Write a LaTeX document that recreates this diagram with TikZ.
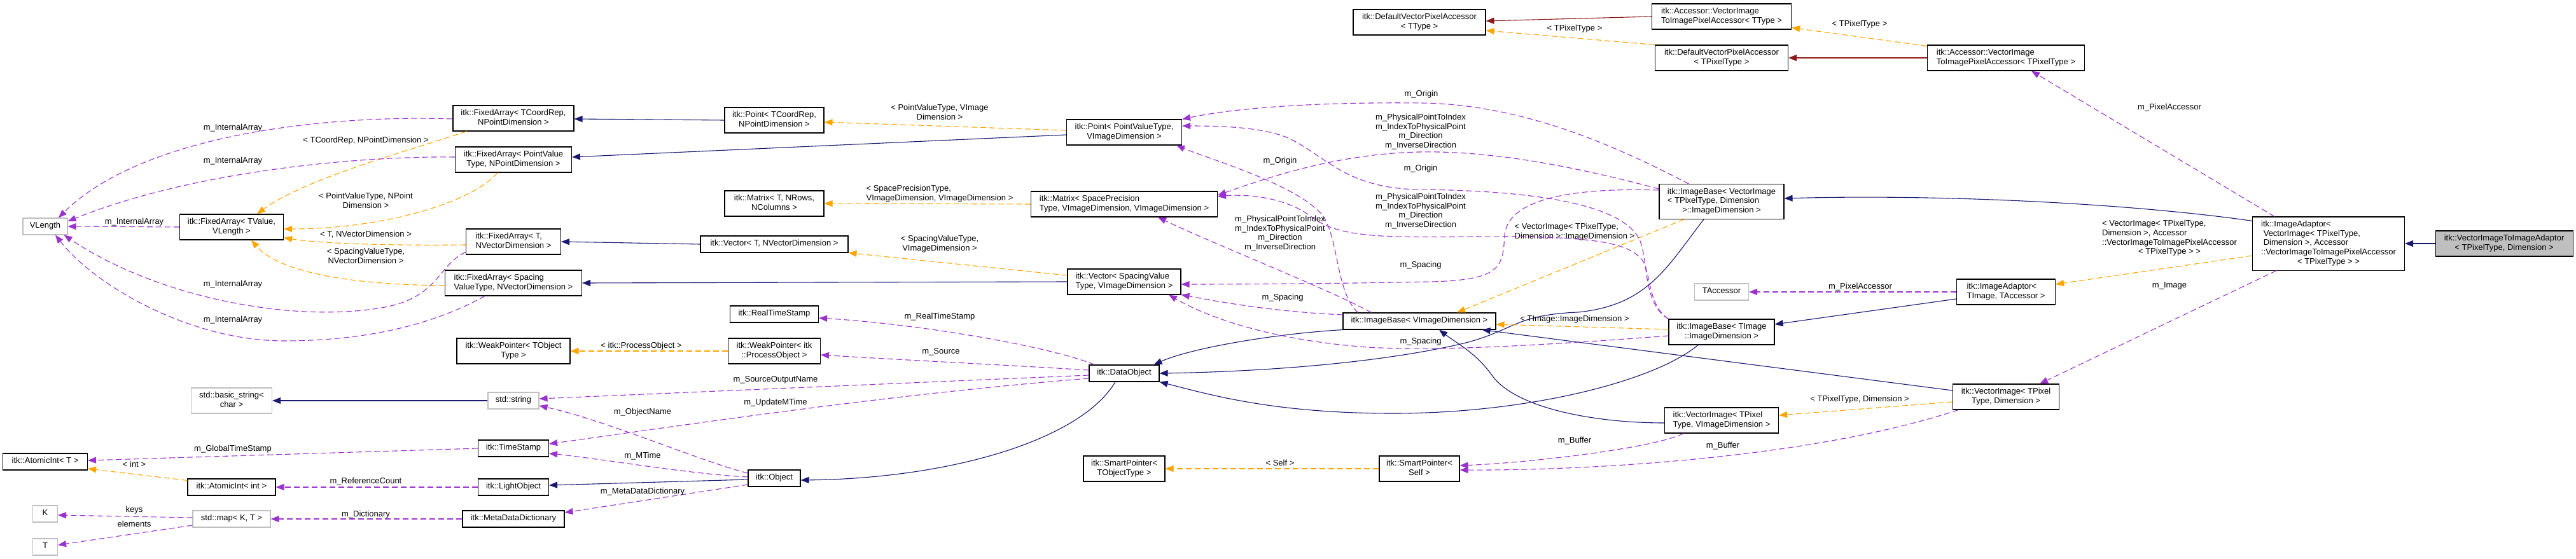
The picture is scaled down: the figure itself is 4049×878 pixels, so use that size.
\documentclass[tikz,border=0pt]{standalone}
\usepackage{fontspec}
\setmainfont{Liberation Sans}
\usetikzlibrary{arrows.meta,calc}

\definecolor{inhblue}{HTML}{191970}
\definecolor{usepurple}{HTML}{9A32CD}
\definecolor{tmplorange}{HTML}{FFA500}
\definecolor{privred}{HTML}{8B1A1A}
\definecolor{extgray}{HTML}{BFBFBF}

\newcommand*{\nodefont}{\fontsize{13}{14.7}\selectfont}
\newcommand*{\boxtext}[2]{\begin{tabular}{@{}l@{}}#1\multicolumn{1}{@{}c@{}}{#2}\end{tabular}}

\begin{document}
\begin{tikzpicture}
[
	x=1pt, y=-1pt,
	clsbox/.style={draw=black,line width=1.1pt,fill=white,font=\nodefont,inner xsep=8pt,inner ysep=5.3pt,minimum height=26pt},
	extbox/.style={clsbox,draw=extgray},
	mainbox/.style={clsbox,fill=extgray},
	lbl/.style={font=\nodefont,inner sep=0pt},
	inhline/.style={draw=inhblue,line width=1.1pt,-{Triangle[length=13pt,width=10pt]}},
	privline/.style={inhline,draw=privred},
	useline/.style={inhline,draw=usepurple,dash pattern=on 9pt off 5pt},
	tmplline/.style={useline,draw=tmplorange}
]

	\useasboundingbox (0,0) rectangle (4049,878);

	% classes
	\node[extbox,minimum width=70] at (71,356) (vlength) {\boxtext{}{VLength}};
	\node[clsbox,minimum width=133] at (71,726) (atomicT) {\boxtext{}{itk::AtomicInt< T >}};
	\node[extbox,minimum width=39] at (71,808) (keyK) {\boxtext{}{K}};
	\node[extbox,minimum width=39] at (71,860) (elemT) {\boxtext{}{T}};

	\node[clsbox,minimum width=163] at (364,357) (fixedTV) {\boxtext{itk::FixedArray< TValue,\\}{VLength >}};
	\node[extbox,minimum width=127] at (364,630) (basicstr) {\boxtext{std::basic\_string<\\}{char >}};
	\node[clsbox,minimum width=138] at (364,766) (atomicInt) {\boxtext{}{itk::AtomicInt< int >}};
	\node[extbox,minimum width=122] at (364,816) (stdmap) {\boxtext{}{std::map< K, T >}};

	\node[clsbox,minimum width=190] at (807,186) (fixedCR) {\boxtext{itk::FixedArray< TCoordRep,\\}{NPointDimension >}};
	\node[clsbox,minimum width=183] at (807,251) (fixedPV) {\boxtext{itk::FixedArray< PointValue\\}{Type, NPointDimension >}};
	\node[clsbox,minimum width=149] at (807,380) (fixedTN) {\boxtext{itk::FixedArray< T,\\}{NVectorDimension >}};
	\node[clsbox,minimum width=215] at (807,445) (fixedSV) {\boxtext{itk::FixedArray< Spacing\\}{ValueType, NVectorDimension >}};
	\node[clsbox,minimum width=178] at (807,552) (weakTO) {\boxtext{itk::WeakPointer< TObject\\}{Type >}};
	\node[extbox,minimum width=80] at (807,630) (stdstring) {\boxtext{}{std::string}};
	\node[clsbox,minimum width=111] at (807,705) (timestamp) {\boxtext{}{itk::TimeStamp}};
	\node[clsbox,minimum width=111] at (807,766) (lightobj) {\boxtext{}{itk::LightObject}};
	\node[clsbox,minimum width=160] at (807,816) (metadict) {\boxtext{}{itk::MetaDataDictionary}};

	\node[clsbox,minimum width=156] at (1217,189) (pointCR) {\boxtext{itk::Point< TCoordRep,\\}{NPointDimension >}};
	\node[clsbox,minimum width=156] at (1217,320) (matrixT) {\boxtext{itk::Matrix< T, NRows,\\}{NColumns >}};
	\node[clsbox,minimum width=232] at (1217,384) (vectorT) {\boxtext{}{itk::Vector< T, NVectorDimension >}};
	\node[clsbox,minimum width=139] at (1217,494) (realts) {\boxtext{}{itk::RealTimeStamp}};
	\node[clsbox,minimum width=145] at (1217,552) (weakPO) {\boxtext{itk::WeakPointer< itk\\}{::ProcessObject >}};
	\node[clsbox,minimum width=82] at (1217,752) (object) {\boxtext{}{itk::Object}};

	\node[clsbox,minimum width=181] at (1767,208) (pointPV) {\boxtext{itk::Point< PointValueType,\\}{VImageDimension >}};
	\node[clsbox,minimum width=293] at (1767,321) (matrixSP) {\boxtext{itk::Matrix< SpacePrecision\\}{Type, VImageDimension, VImageDimension >}};
	\node[clsbox,minimum width=178] at (1767,443) (vectorSV) {\boxtext{itk::Vector< SpacingValue\\}{Type, VImageDimension >}};
	\node[clsbox,minimum width=110] at (1767,587) (dataobj) {\boxtext{}{itk::DataObject}};
	\node[clsbox,minimum width=128] at (1767,737) (smartTO) {\boxtext{itk::SmartPointer<\\}{TObjectType >}};

	\node[clsbox,minimum width=208] at (2231,35) (defaultTT) {\boxtext{itk::DefaultVectorPixelAccessor\\}{< TType >}};
	\node[clsbox,minimum width=240] at (2231,505) (imagebaseV) {\boxtext{}{itk::ImageBase< VImageDimension >}};
	\node[clsbox,minimum width=126] at (2231,737) (smartSelf) {\boxtext{itk::SmartPointer<\\}{Self >}};

	\node[clsbox,minimum width=219] at (2706,26) (accessorTT) {\boxtext{itk::Accessor::VectorImage\\}{ToImagePixelAccessor< TType >}};
	\node[clsbox,minimum width=209] at (2706,91) (defaultTP) {\boxtext{itk::DefaultVectorPixelAccessor\\}{< TPixelType >}};
	\node[clsbox,minimum width=196] at (2706,317) (imagebaseVI) {\boxtext{itk::ImageBase< VectorImage\\< TPixelType, Dimension\\}{>::ImageDimension >}};
	\node[extbox,minimum width=85] at (2706,459) (taccessor) {\boxtext{}{TAccessor}};
	\node[clsbox,minimum width=166] at (2706,522) (imagebaseTI) {\boxtext{itk::ImageBase< TImage\\}{::ImageDimension >}};
	\node[clsbox,minimum width=179] at (2706,661) (vectorVID) {\boxtext{itk::VectorImage< TPixel\\}{Type, VImageDimension >}};

	\node[clsbox,minimum width=247] at (3153,91) (accessorTP) {\boxtext{itk::Accessor::VectorImage\\}{ToImagePixelAccessor< TPixelType >}};
	\node[clsbox,minimum width=155] at (3153,459) (adaptorTA) {\boxtext{itk::ImageAdaptor<\\}{TImage, TAccessor >}};
	\node[clsbox,minimum width=167] at (3153,624) (vectorDim) {\boxtext{itk::VectorImage< TPixel\\}{Type, Dimension >}};

	\node[clsbox,minimum width=239] at (3660,383) (adaptorVI) {\boxtext{itk::ImageAdaptor<\\\ VectorImage< TPixelType,\\\ Dimension >, Accessor\\::VectorImageToImagePixelAccessor\\}{< TPixelType > >}};
	\node[mainbox,minimum width=216] at (3936,383) (vi2ia) {\boxtext{itk::VectorImageToImageAdaptor\\}{< TPixelType, Dimension >}};

	% inheritance
	\draw[inhline] (vi2ia.west) -- (adaptorVI.east);
	\draw[inhline] ($(adaptorVI.north west)+(0,7)$) .. controls (3350,320) and (3050,305) .. ($(imagebaseVI.east)+(0,-5)$);
	\draw[inhline] ($(adaptorTA.west)+(0,11)$) -- ($(imagebaseTI.east)+(0,-12)$);
	\draw[inhline] ($(vectorDim.west)+(0,-10)$) -- ($(imagebaseV.south east)+(-22,0)$);
	\draw[inhline] ($(vectorVID.west)+(0,4)$) .. controls (2500,665) and (2380,640) .. (2345,590) .. controls (2320,555) and (2290,540) .. ($(imagebaseV.south)+(31,0)$);
	\draw[inhline] ($(imagebaseVI.south)+(-28,0)$) .. controls (2620,420) and (2590,480) .. (2480,491) .. controls (2380,495) and (2380,520) .. (2300,540) .. controls (2150,575) and (1950,585) .. (dataobj.east);
	\draw[inhline] ($(imagebaseTI.south)+(-37,0)$) .. controls (2600,600) and (2400,650) .. (2190,650) .. controls (2000,650) and (1900,620) .. (dataobj.south east);
	\draw[inhline] (imagebaseV.south west) .. controls (2000,525) and (1870,548) .. ($(dataobj.north east)+(-9,0)$);
	\draw[inhline] ($(dataobj.south)+(-14,0)$) .. controls (1700,690) and (1500,752) .. ($(object.east)+(0,3)$);
	\draw[inhline] ($(object.west)+(0,2)$) -- ($(lightobj.east)+(0,-3)$);
	\draw[inhline] (stdstring.west) -- (basicstr.east);
	\draw[inhline] ($(pointPV.west)+(0,4)$) -- ($(fixedPV.east)+(0,-4)$);
	\draw[inhline] (vectorSV.west) -- (fixedSV.east);
	\draw[inhline] (pointCR.west) -- ($(fixedCR.east)+(0,1)$);
	\draw[inhline] (vectorT.west) -- (fixedTN.east);
	\draw[privline] (accessorTP.west) -- (defaultTP.east);
	\draw[privline] (accessorTT.west) -- ($(defaultTT.east)+(0,-2)$);

	% template arguments
	\draw[tmplline] ($(adaptorVI.west)+(0,19)$) -- ($(adaptorTA.east)+(0,-12)$);
	\node[lbl] at (3410,375) (lblAdaptorArgs) {\boxtext{< VectorImage< TPixelType,\\Dimension >, Accessor\\::VectorImageToImagePixelAccessor\\}{< TPixelType > >}};
	\draw[tmplline] ($(accessorTP.north west)+(0,2)$) -- ($(accessorTT.south east)+(0,-3)$);
	\node[lbl] at (2923,38) (lblTPixel1) {< TPixelType >};
	\draw[tmplline] (defaultTP.north west) -- ($(defaultTT.east)+(0,13)$);
	\node[lbl] at (2475,45) (lblTPixel2) {< TPixelType >};
	\draw[tmplline] ($(vectorDim.west)+(0,8)$) -- ($(vectorVID.east)+(0,-8)$);
	\node[lbl] at (2923,628) (lblTPixelDim) {< TPixelType, Dimension >};
	\draw[tmplline] ($(imagebaseVI.south)+(-59,0)$) -- ($(imagebaseV.north)+(59,0)$);
	\node[lbl] at (2475,365) (lblVIDim) {\boxtext{< VectorImage< TPixelType,\\}{Dimension >::ImageDimension >}};
	\draw[tmplline] ($(imagebaseTI.west)+(0,-4)$) -- ($(imagebaseV.east)+(0,5)$);
	\node[lbl] at (2475,502) (lblTImageDim) {< TImage::ImageDimension >};
	\draw[tmplline] (smartSelf.west) -- (smartTO.east);
	\node[lbl] at (2012,728) (lblSelf) {< Self >};
	\draw[tmplline] ($(pointPV.west)+(0,-3)$) -- ($(pointCR.east)+(0,3)$);
	\node[lbl] at (1477,178) (lblPointArgs) {\boxtext{< PointValueType, VImage\\}{Dimension >}};
	\draw[tmplline] (matrixSP.west) -- (matrixT.east);
	\node[lbl] at (1477,305) (lblMatrixArgs) {\boxtext{< SpacePrecisionType,\\}{VImageDimension, VImageDimension >}};
	\draw[tmplline] ($(vectorSV.west)+(0,-10)$) -- (vectorT.south east);
	\node[lbl] at (1477,384) (lblVectorArgs) {\boxtext{< SpacingValueType,\\}{VImageDimension >}};
	\draw[tmplline] (weakPO.west) -- (weakTO.east);
	\node[lbl] at (1008,544) (lblProcObj) {< itk::ProcessObject >};
	\draw[tmplline] ($(fixedCR.south west)+(22,0)$) .. controls (650,235) and (480,280) .. ($(fixedTV.north)+(40,0)$);
	\node[lbl] at (575,221) (lblCoordArgs) {< TCoordRep, NPointDimension >};
	\draw[tmplline] ($(fixedPV.south)+(-25,0)$) .. controls (740,320) and (600,360) .. ($(fixedTV.east)+(0,3)$);
	\node[lbl] at (575,317) (lblPVArgs) {\boxtext{< PointValueType, NPoint\\}{Dimension >}};
	\draw[tmplline] ($(fixedTN.west)+(0,5)$) .. controls (650,386) and (520,385) .. ($(fixedTV.east)+(0,17)$);
	\node[lbl] at (575,369) (lblTNArgs) {< T, NVectorDimension >};
	\draw[tmplline] ($(fixedSV.west)+(0,4)$) .. controls (560,448) and (440,430) .. ($(fixedTV.south)+(31,0)$);
	\node[lbl] at (575,404) (lblSVArgs) {\boxtext{< SpacingValueType,\\}{NVectorDimension >}};
	\draw[tmplline] ($(atomicInt.north west)+(0,3)$) -- ($(atomicT.east)+(0,11)$);
	\node[lbl] at (211,730) (lblInt) {< int >};

	% members
	\draw[useline] ($(adaptorVI.north west)+(35,0)$) -- ($(accessorTP.south)+(40,0)$);
	\node[lbl] at (3410,169) (lblPixAcc1) {m\_PixelAccessor};
	\draw[useline] ($(adaptorVI.south west)+(38,0)$) -- ($(vectorDim.north)+(53,0)$);
	\node[lbl] at (3410,449) (lblImage) {m\_Image};
	\draw[useline] (adaptorTA.west) -- (taccessor.east);
	\node[lbl] at (2924,451) (lblPixAcc2) {m\_PixelAccessor};
	\draw[useline] ($(vectorDim.south west)+(9,0)$) .. controls (2850,720) and (2500,740) .. ($(smartSelf.east)+(0,2)$);
	\node[lbl] at (2708,701) (lblBuffer1) {m\_Buffer};
	\draw[useline] ($(vectorVID.south west)+(30,0)$) .. controls (2600,705) and (2400,728) .. ($(smartSelf.east)+(0,-5)$);
	\node[lbl] at (2475,693) (lblBuffer2) {m\_Buffer};

	\draw[useline] ($(imagebaseVI.north west)+(47,0)$) .. controls (2550,235) and (2400,164) .. (2234,162) .. controls (2050,160) and (1930,172) .. (pointPV.north east);
	\node[lbl] at (2234,148) (lblOrigin1) {m\_Origin};
	\draw[useline] (imagebaseTI.north west) .. controls (2585,480) and (2590,420) .. (2580,385) .. controls (2565,330) and (2450,300) .. (2230,298) .. controls (2110,296) and (2080,240) .. (2020,215) .. controls (1980,200) and (1920,198) .. ($(pointPV.east)+(0,-10)$);
	\node[lbl] at (2233,265) (lblOrigin2) {m\_Origin};
	\draw[useline] ($(imagebaseV.north west)+(24,0)$) .. controls (2100,460) and (2105,380) .. (2080,340) .. controls (2040,290) and (1900,250) .. ($(pointPV.south east)+(-9,0)$);
	\node[lbl] at (2012,253) (lblOrigin3) {m\_Origin};

	\draw[useline] ($(imagebaseVI.west)+(0,-20)$) .. controls (2450,255) and (2330,237) .. (2230,239) .. controls (2100,242) and (1990,280) .. ($(matrixSP.east)+(0,-14)$);
	\node[lbl,align=center] at (2233,207) (lblDir1) {m\_PhysicalPointToIndex\\m\_IndexToPhysicalPoint\\m\_Direction\\m\_InverseDirection};
	\draw[useline] (imagebaseTI.north west) .. controls (2590,480) and (2595,430) .. (2582,410) .. controls (2560,380) and (2500,374) .. (2380,372) .. controls (2200,372) and (2110,380) .. (2060,340) .. controls (2020,310) and (1960,305) .. ($(matrixSP.east)+(0,-12)$);
	\node[lbl,align=center] at (2233,332) (lblDir2) {m\_PhysicalPointToIndex\\m\_IndexToPhysicalPoint\\m\_Direction\\m\_InverseDirection};
	\draw[useline] ($(imagebaseV.north west)+(45,0)$) .. controls (2100,460) and (1900,380) .. ($(matrixSP.south)+(53,0)$);
	\node[lbl,align=center] at (2012,367) (lblDir3) {m\_PhysicalPointToIndex\\m\_IndexToPhysicalPoint\\m\_Direction\\m\_InverseDirection};

	\draw[useline] ($(imagebaseVI.west)+(0,-18)$) .. controls (2480,295) and (2370,310) .. (2365,370) .. controls (2362,420) and (2360,440) .. (2250,443) .. controls (2100,446) and (1950,447) .. ($(vectorSV.east)+(0,4)$);
	\node[lbl] at (2233,417) (lblSpacing1) {m\_Spacing};
	\draw[useline] ($(imagebaseV.west)+(0,-10)$) .. controls (2000,490) and (1920,475) .. (vectorSV.south east);
	\node[lbl] at (2016,468) (lblSpacing2) {m\_Spacing};
	\draw[useline] ($(imagebaseTI.west)+(0,6)$) .. controls (2400,545) and (2250,552) .. (2150,546) .. controls (2000,535) and (1900,500) .. ($(vectorSV.south)+(70,0)$);
	\node[lbl] at (2233,537) (lblSpacing3) {m\_Spacing};

	\draw[useline] ($(dataobj.north west)+(9,0)$) .. controls (1650,545) and (1450,510) .. ($(realts.east)+(0,6)$);
	\node[lbl] at (1477,498) (lblRealTS) {m\_RealTimeStamp};
	\draw[useline] ($(dataobj.west)+(0,-5)$) .. controls (1600,575) and (1400,565) .. ($(weakPO.east)+(0,6)$);
	\node[lbl] at (1479,553) (lblSource) {m\_Source};
	\draw[useline] ($(dataobj.west)+(0,3)$) -- ($(stdstring.east)+(0,-3)$);
	\node[lbl] at (1219,597) (lblSrcOut) {m\_SourceOutputName};
	\draw[useline] ($(dataobj.west)+(0,8)$) .. controls (1400,620) and (1100,665) .. ($(timestamp.east)+(0,-7)$);
	\node[lbl] at (1219,633) (lblUpdMTime) {m\_UpdateMTime};
	\draw[useline] ($(object.west)+(0,-8)$) .. controls (1100,725) and (950,660) .. ($(stdstring.east)+(0,8)$);
	\node[lbl] at (1010,648) (lblObjName) {m\_ObjectName};
	\draw[useline] ($(object.west)+(0,-2)$) .. controls (1080,745) and (950,722) .. ($(timestamp.east)+(0,8)$);
	\node[lbl] at (1010,717) (lblMTime) {m\_MTime};
	\draw[useline] ($(object.west)+(0,10)$) -- ($(metadict.east)+(0,-10)$);
	\node[lbl] at (1010,773) (lblMetaDict) {m\_MetaDataDictionary};

	\draw[useline] (timestamp.west) -- ($(atomicT.east)+(0,-2)$);
	\node[lbl] at (366,706) (lblGlobalTS) {m\_GlobalTimeStamp};
	\draw[useline] (lightobj.west) -- (atomicInt.east);
	\node[lbl] at (575,757) (lblRefCount) {m\_ReferenceCount};
	\draw[useline] (metadict.west) -- (stdmap.east);
	\node[lbl] at (575,809) (lblDict) {m\_Dictionary};
	\draw[useline] ($(stdmap.west)+(0,-2)$) -- ($(keyK.east)+(0,2)$);
	\node[lbl] at (211,802) (lblKeys) {keys};
	\draw[useline] ($(stdmap.west)+(0,10)$) -- ($(elemT.east)+(0,-3)$);
	\node[lbl] at (211,824) (lblElements) {elements};

	\draw[useline] (fixedTV.west) -- (vlength.east);
	\node[lbl] at (211,349) (lblInt1) {m\_InternalArray};
	\draw[useline] ($(fixedCR.west)+(0,1)$) .. controls (500,180) and (220,215) .. ($(vlength.north)+(21,0)$);
	\node[lbl] at (366,201) (lblInt2) {m\_InternalArray};
	\draw[useline] ($(fixedPV.west)+(0,-4)$) .. controls (560,245) and (300,270) .. ($(vlength.east)+(0,-8)$);
	\node[lbl] at (366,253) (lblInt3) {m\_InternalArray};
	\draw[useline] ($(fixedTN.south west)+(0,-4)$) .. controls (690,415) and (690,465) .. (610,482) .. controls (470,510) and (250,470) .. ($(vlength.south east)+(-6,0)$);
	\node[lbl] at (366,447) (lblInt4) {m\_InternalArray};
	\draw[useline] ($(fixedSV.south west)+(63,0)$) .. controls (700,500) and (600,536) .. (446,536) .. controls (300,536) and (150,450) .. ($(vlength.south)+(16,0)$);
	\node[lbl] at (366,503) (lblInt5) {m\_InternalArray};

\end{tikzpicture}
\end{document}
